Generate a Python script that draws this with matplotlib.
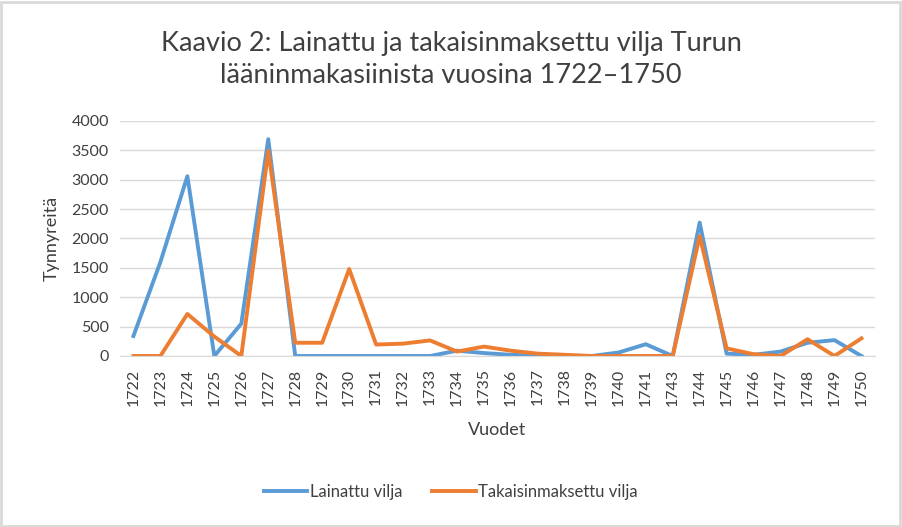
import matplotlib.pyplot as plt
from matplotlib.patches import Rectangle
import numpy as np

plt.rcParams['font.family'] = ['Lato', 'DejaVu Sans']

# vuodet (1742 puuttuu aineistosta)
years = ['1722', '1723', '1724', '1725', '1726', '1727', '1728', '1729', '1730',
         '1731', '1732', '1733', '1734', '1735', '1736', '1737', '1738', '1739',
         '1740', '1741', '1743', '1744', '1745', '1746', '1747', '1748', '1749',
         '1750']

lainattu = [340, 1600, 3060, 0, 550, 3690, 0, 0, 0,
            0, 0, 0, 90, 50, 20, 5, 0, 0,
            60, 200, 0, 2270, 40, 20, 75, 225, 270,
            0]

takaisin = [0, 0, 715, 330, 0, 3490, 225, 225, 1480,
            195, 210, 265, 75, 160, 90, 40, 20, 0,
            0, 0, 0, 2040, 130, 30, 0, 285, 0,
            300]

blue = '#5b9bd5'
orange = '#ed7d31'
txt = '#404040'

fig = plt.figure(figsize=(9.02, 5.27), dpi=100)
ax = fig.add_axes([0.133, 0.3245, 0.837, 0.446])

x = np.arange(len(years))
ax.plot(x, lainattu, color=blue, lw=2.8, label='Lainattu vilja', solid_joinstyle='round')
ax.plot(x, takaisin, color=orange, lw=2.8, label='Takaisinmaksettu vilja', solid_joinstyle='round')

ax.set_xlim(-0.5, len(years) - 0.5)
ax.set_ylim(0, 4000)
ax.set_yticks(range(0, 4001, 500))
ax.set_xticks(x)
ax.set_xticklabels(years, rotation=90, fontsize=11.5, color=txt)
ax.tick_params(axis='y', labelsize=11.5, labelcolor=txt, length=0, pad=8)
ax.tick_params(axis='x', length=0, pad=9)
ax.grid(axis='y', color='#d9d9d9', lw=1)
ax.set_axisbelow(True)
for s in ['top', 'right', 'left']:
    ax.spines[s].set_visible(False)
ax.spines['bottom'].set_color('#d9d9d9')

ax.set_ylabel('Tynnyreitä', fontsize=13, color=txt, labelpad=8)
ax.set_xlabel('Vuodet', fontsize=13, color=txt, labelpad=12)

fig.suptitle('Kaavio 2: Lainattu ja takaisinmaksettu vilja Turun\n'
             'lääninmakasiinista vuosina 1722–1750',
             fontsize=19.5, color=txt, y=0.942, linespacing=1.35)

fig.legend(loc='center', bbox_to_anchor=(0.5, 0.066), ncol=2, frameon=False,
           fontsize=12, handlelength=2.6, handletextpad=0.15, columnspacing=1.8,
           labelcolor=txt)

# kehys kuvan ympärillä
fig.patches.append(Rectangle((0.001, 0.002), 0.997, 0.995, transform=fig.transFigure,
                             fill=False, edgecolor='#d9d9d9', lw=2))

fig.savefig('out.png', dpi=100)
